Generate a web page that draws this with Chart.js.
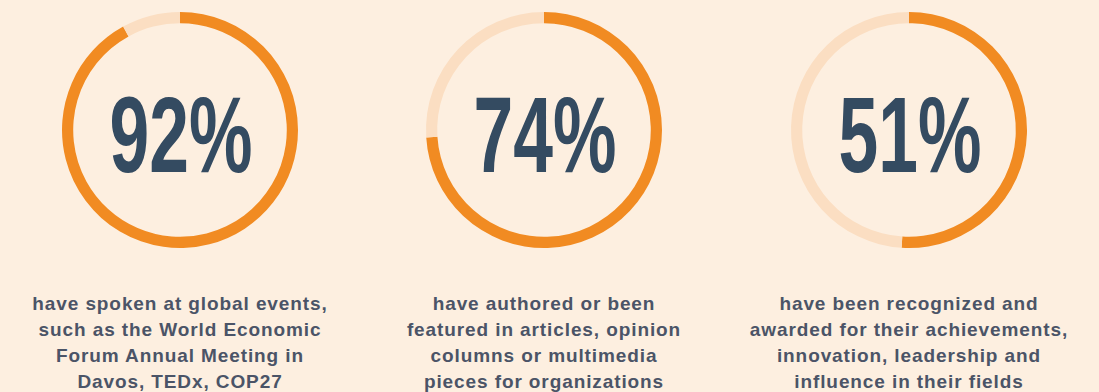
<!DOCTYPE html>
<html lang="en">
<head>
    <meta charset="UTF-8">
    <title>Stats</title>
    <script src="https://cdn.jsdelivr.net/npm/chart.js@4.4.0/dist/chart.umd.min.js"></script>
    <style>
        body { margin: 0; background: #fdefe0; width: 1099px; height: 392px; overflow: hidden; position: relative; }
        .col { position: absolute; top: 0; width: 340px; height: 392px; }
        .col canvas { position: absolute; top: 0; left: 40px; }
        .col p {
            position: absolute; top: 291px; left: 0; width: 340px; margin: 0;
            text-align: center; font-family: "Liberation Sans", Arial, sans-serif;
            font-weight: bold; font-size: 19px; letter-spacing: 0.9px; line-height: 26px; color: #4b5467;
        }
    </style>
</head>
<body>
    <div class="col" style="left:10px"><canvas id="c0" width="260" height="260"></canvas><p id="t0"></p></div>
    <div class="col" style="left:374px"><canvas id="c1" width="260" height="260"></canvas><p id="t1"></p></div>
    <div class="col" style="left:739px"><canvas id="c2" width="260" height="260"></canvas><p id="t2"></p></div>

    <script>
        // Datos
        const porcentajes = [92, 74, 51];
        const etiquetas = ['92%', '74%', '51%'];
        const descripciones = [
            ['have spoken at global events,', 'such as the World Economic', 'Forum Annual Meeting in', 'Davos, TEDx, COP27'],
            ['have authored or been', 'featured in articles, opinion', 'columns or multimedia', 'pieces for organizations'],
            ['have been recognized and', 'awarded for their achievements,', 'innovation, leadership and', 'influence in their fields']
        ];

        // Texto central condensado
        const textoCentro = {
            id: 'textoCentro',
            afterDraw(chart, args, opts) {
                const ctx = chart.ctx;
                const a = chart.chartArea;
                const cx = (a.left + a.right) / 2;
                const cy = (a.top + a.bottom) / 2;
                ctx.save();
                ctx.font = 'bold 108px "Liberation Sans", Arial, sans-serif';
                ctx.fillStyle = '#344b61';
                ctx.textAlign = 'center';
                ctx.textBaseline = 'alphabetic';
                const w = ctx.measureText(opts.texto).width;
                const escala = 143 / w;
                ctx.translate(cx + 1, cy + 42);
                ctx.scale(escala, 1);
                ctx.fillText(opts.texto, 0, 0);
                ctx.restore();
            }
        };

        porcentajes.forEach((p, i) => {
            new Chart(document.getElementById('c' + i), {
                type: 'doughnut',
                data: {
                    datasets: [{
                        data: [p, 100 - p],
                        backgroundColor: ['#f18b22', '#fbdec2'],
                        borderWidth: 0
                    }]
                },
                options: {
                    responsive: false,
                    animation: false,
                    cutout: '90.5%',
                    layout: { padding: 12 },
                    events: [],
                    plugins: {
                        legend: { display: false },
                        tooltip: { enabled: false },
                        textoCentro: { texto: etiquetas[i] }
                    }
                },
                plugins: [textoCentro]
            });
            document.getElementById('t' + i).innerHTML = descripciones[i].join('<br>');
        });
    </script>
</body>
</html>
